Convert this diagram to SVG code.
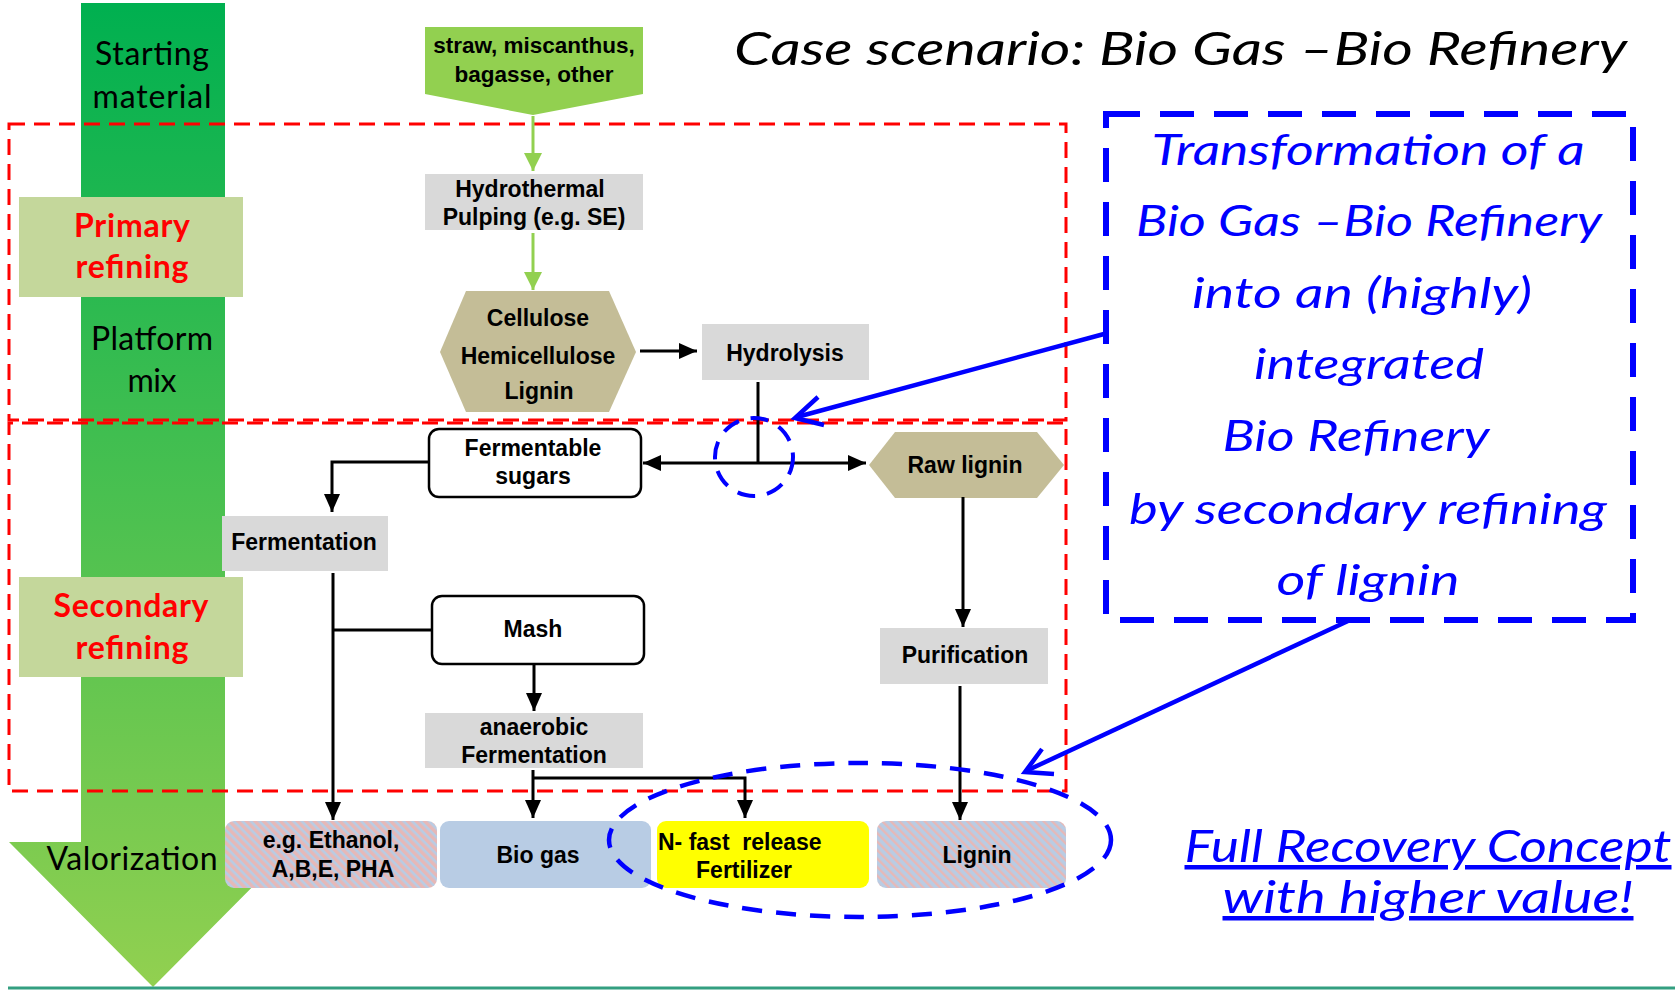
<svg xmlns="http://www.w3.org/2000/svg" width="1675" height="990" viewBox="0 0 1675 990">
<style>
.lbl{font-family:"Liberation Sans",Arial,sans-serif;font-weight:bold;font-size:23px;fill:#000;text-anchor:middle}
.cal{font-family:Lato,"Open Sans",sans-serif;font-size:32px;fill:#000;text-anchor:middle}
.red{font-family:Lato,"Open Sans",sans-serif;font-size:32px;font-weight:bold;fill:#ff0000;text-anchor:middle}
.blue{font-family:Lato,"Open Sans",sans-serif;font-style:italic;font-size:43px;fill:#0000ff;text-anchor:middle}
.gray{fill:#d9d9d9}
.rbox{fill:#fff;stroke:#000;stroke-width:2.5}
.conn{fill:none;stroke:#000;stroke-width:3}
.gconn{fill:none;stroke:#92d050;stroke-width:3}
.reddash{fill:none;stroke:#ff0000;stroke-width:3;stroke-dasharray:16 9}
.stage{fill:#c4d79b}
</style>
<defs>
<linearGradient id="gcol" x1="0" y1="0" x2="0" y2="1">
<stop offset="0" stop-color="#00b050"/>
<stop offset="1" stop-color="#92d050"/>
</linearGradient>
<pattern id="hatchPink" width="6" height="6" patternUnits="userSpaceOnUse" patternTransform="rotate(-45)">
<rect width="6" height="6" fill="#b8cce4"/>
<rect width="3.4" height="6" fill="#e6b8b7"/>
</pattern>
<pattern id="hatchBlue" width="6" height="6" patternUnits="userSpaceOnUse" patternTransform="rotate(-45)">
<rect width="6" height="6" fill="#b8cce4"/>
<rect width="2.4" height="6" fill="#e6b8b7"/>
</pattern>
<marker id="ah" markerWidth="18" markerHeight="16" refX="18" refY="8" orient="auto" markerUnits="userSpaceOnUse">
<path d="M0,0 L18,8 L0,16 Z" fill="#000"/>
</marker>
<marker id="gah" markerWidth="18" markerHeight="18" refX="18" refY="9" orient="auto" markerUnits="userSpaceOnUse">
<path d="M0,0 L18,9 L0,18 Z" fill="#92d050"/>
</marker>
</defs>

<rect width="1675" height="990" fill="#fff"/>

<g id="stage-arrow">
<polygon points="81,3 225,3 225,842 297,842 153,987 9,842 81,842" fill="url(#gcol)"/>
<text class="cal" x="152" y="65" textLength="114">Starting</text>
<text class="cal" x="152" y="108" textLength="119">material</text>
<text class="cal" x="152" y="350" textLength="122">Platform</text>
<text class="cal" x="152" y="392" textLength="49">mix</text>
<text class="cal" x="132" y="870" textLength="171">Valorization</text>
</g>
<line x1="8" y1="988" x2="1675" y2="988" stroke="#339f80" stroke-width="3"/>

<g id="primary-region"><rect class="reddash" x="9" y="124" width="1057" height="296"/></g>
<g id="secondary-region"><rect class="reddash" x="9" y="423" width="1057" height="368" stroke-dashoffset="12"/></g>

<g id="primary-label">
<rect class="stage" x="19" y="197" width="224" height="100"/>
<text class="red" x="132" y="237" textLength="116">Primary</text>
<text class="red" x="132" y="278" textLength="113">refining</text>
</g>
<g id="secondary-label">
<rect class="stage" x="19" y="577" width="224" height="100"/>
<text class="red" x="131" y="617" textLength="155">Secondary</text>
<text class="red" x="132" y="659" textLength="113">refining</text>
</g>

<g id="title">
<text x="734" y="65" textLength="893" lengthAdjust="spacingAndGlyphs" font-family="Lato,'Open Sans',sans-serif" font-style="italic" font-size="46" fill="#000">Case scenario: Bio Gas –Bio Refinery</text>
</g>

<g id="feedstock">
<polygon points="425,27 643,27 643,94 533,115 425,94" fill="#92d050"/>
<text class="lbl" x="534" y="53" style="font-size:22.5px">straw, miscanthus,</text>
<text class="lbl" x="534" y="82" style="font-size:22.5px">bagasse, other</text>
</g>

<g id="hydrothermal">
<rect class="gray" x="425" y="174" width="218" height="56"/>
<text class="lbl" x="530" y="197">Hydrothermal</text>
<text class="lbl" x="534" y="225">Pulping (e.g. SE)</text>
</g>

<g id="platform">
<polygon points="466,291 609,291 636,352 609,412 466,412 440,352" fill="#c4bd97"/>
<text class="lbl" x="538" y="326">Cellulose</text>
<text class="lbl" x="538" y="364">Hemicellulose</text>
<text class="lbl" x="539" y="399">Lignin</text>
</g>

<g id="hydrolysis">
<rect class="gray" x="702" y="324" width="167" height="56"/>
<text class="lbl" x="785" y="361">Hydrolysis</text>
</g>

<g id="sugars">
<rect class="rbox" x="429" y="429" width="212" height="68" rx="10"/>
<text class="lbl" x="533" y="456">Fermentable</text>
<text class="lbl" x="533" y="484">sugars</text>
</g>

<g id="rawlignin">
<polygon points="895,432 1037,432 1064,465 1037,498 895,498 869,465" fill="#c4bd97"/>
<text class="lbl" x="965" y="473">Raw lignin</text>
</g>

<g id="fermentation">
<rect class="gray" x="222" y="516" width="166" height="55"/>
<text class="lbl" x="304" y="550">Fermentation</text>
</g>

<g id="mash">
<rect class="rbox" x="432" y="596" width="212" height="68" rx="10"/>
<text class="lbl" x="533" y="637">Mash</text>
</g>

<g id="purification">
<rect class="gray" x="880" y="628" width="168" height="56"/>
<text class="lbl" x="965" y="663">Purification</text>
</g>

<g id="anaerobic">
<rect class="gray" x="425" y="713" width="218" height="55"/>
<text class="lbl" x="534" y="735">anaerobic</text>
<text class="lbl" x="534" y="763">Fermentation</text>
</g>

<g id="ethanol">
<rect x="225" y="821" width="212" height="67" rx="9" fill="url(#hatchPink)"/>
<text class="lbl" x="331" y="848">e.g. Ethanol,</text>
<text class="lbl" x="333" y="877">A,B,E, PHA</text>
</g>

<g id="biogas">
<rect x="440" y="821" width="211" height="67" rx="9" fill="#b8cce4"/>
<text class="lbl" x="538" y="863">Bio gas</text>
</g>

<g id="fertilizer">
<rect x="657" y="821" width="212" height="67" rx="9" fill="#ffff00"/>
<text class="lbl" x="658" y="850" style="text-anchor:start;white-space:pre" xml:space="preserve">N- fast  release</text>
<text class="lbl" x="744" y="878">Fertilizer</text>
</g>

<g id="lignin">
<rect x="877" y="821" width="189" height="67" rx="9" fill="url(#hatchBlue)"/>
<text class="lbl" x="977" y="863">Lignin</text>
</g>

<g id="connectors">
<path class="gconn" d="M533 116 V171" marker-end="url(#gah)"/>
<path class="gconn" d="M533 233 V290" marker-end="url(#gah)"/>
<path class="conn" d="M640 351 H697" marker-end="url(#ah)"/>
<path class="conn" d="M758 382 V463"/>
<path class="conn" d="M758 463 H643" marker-end="url(#ah)"/>
<path class="conn" d="M758 463 H866" marker-end="url(#ah)"/>
<path class="conn" d="M429 462 H332 V512" marker-end="url(#ah)"/>
<path class="conn" d="M333 573 V820" marker-end="url(#ah)"/>
<path class="conn" d="M432 630 H333"/>
<path class="conn" d="M963 497 V627" marker-end="url(#ah)"/>
<path class="conn" d="M960 686 V820" marker-end="url(#ah)"/>
<path class="conn" d="M534 665 V711" marker-end="url(#ah)"/>
<path class="conn" d="M533 770 V818" marker-end="url(#ah)"/>
<path class="conn" d="M533 778 H745 V818" marker-end="url(#ah)"/>
</g>

<g id="annotation">
<rect x="1106" y="114" width="527" height="506" fill="none" stroke="#0000ff" stroke-width="6" stroke-dasharray="34 20"/>
<text class="blue" x="1368" y="165" textLength="433" lengthAdjust="spacingAndGlyphs">Transformation of a</text>
<text class="blue" x="1369" y="236" textLength="466" lengthAdjust="spacingAndGlyphs">Bio Gas –Bio Refinery</text>
<text class="blue" x="1362" y="308" textLength="340" lengthAdjust="spacingAndGlyphs">into an (highly)</text>
<text class="blue" x="1369" y="379" textLength="230" lengthAdjust="spacingAndGlyphs">integrated</text>
<text class="blue" x="1356" y="451" textLength="267" lengthAdjust="spacingAndGlyphs">Bio Refinery</text>
<text class="blue" x="1368" y="524" textLength="478" lengthAdjust="spacingAndGlyphs">by secondary refining</text>
<text class="blue" x="1368" y="595" textLength="183" lengthAdjust="spacingAndGlyphs">of lignin</text>
</g>

<g id="annotation-arrows" fill="none" stroke="#0000ff" stroke-width="4.5">
<line x1="1104" y1="334" x2="797" y2="417"/>
<polyline points="818,397 795,418 824,425"/>
<line x1="1348" y1="621" x2="1026" y2="771"/>
<polyline points="1042,749 1025,772 1054,774"/>
<circle cx="754" cy="457" r="39" stroke-width="4" stroke-dasharray="18 12"/>
<ellipse cx="860" cy="840" rx="251" ry="77" stroke-width="4.5" stroke-dasharray="20 14"/>
</g>

<g id="recovery">
<text x="1428" y="862" textLength="487" lengthAdjust="spacingAndGlyphs" font-family="Lato,'Open Sans',sans-serif" font-style="italic" font-size="45" fill="#0000ff" text-anchor="middle" text-decoration="underline">Full Recovery Concept</text>
<text x="1428" y="913" textLength="411" lengthAdjust="spacingAndGlyphs" font-family="Lato,'Open Sans',sans-serif" font-style="italic" font-size="45" fill="#0000ff" text-anchor="middle" text-decoration="underline">with higher value!</text>
</g>
</svg>
